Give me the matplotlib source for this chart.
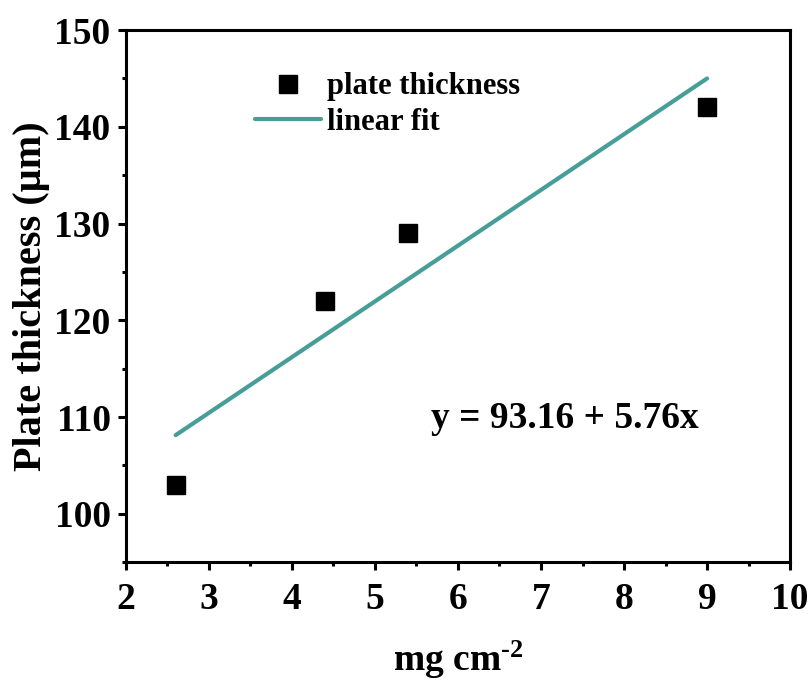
import numpy as np
import matplotlib
matplotlib.use("Agg")
import matplotlib.pyplot as plt
from matplotlib.ticker import MultipleLocator

plt.rcParams["font.family"] = "serif"
plt.rcParams["font.serif"] = ["Liberation Serif", "DejaVu Serif"]
plt.rcParams["font.weight"] = "bold"
plt.rcParams["mathtext.fontset"] = "custom"
plt.rcParams["mathtext.rm"] = "Liberation Serif:bold"
plt.rcParams["mathtext.default"] = "rm"

# loading (mg cm-2) vs measured plate thickness (um)
loading = [2.6, 4.4, 5.4, 9.0]
thickness = [103, 122, 129, 142]

# linear fit coefficients
intercept = 93.16
slope = 5.76

fit_x = np.array([loading[0], loading[-1]])
fit_y = intercept + slope * fit_x

teal = "#479e98"

fig = plt.figure(figsize=(8.12, 6.84), dpi=100, facecolor="white")
ax = fig.add_axes([0.155, 0.178, 0.818, 0.778])

ax.plot(loading, thickness, "s", color="black", ms=13.5, label="plate thickness", zorder=3)
ax.plot(fit_x, fit_y, "-", color=teal, lw=3, solid_capstyle="round", label="linear fit")

ax.set_xlim(2, 10)
ax.set_ylim(95, 150)
ax.xaxis.set_major_locator(MultipleLocator(1))
ax.xaxis.set_minor_locator(MultipleLocator(0.5))
ax.yaxis.set_major_locator(MultipleLocator(10))
ax.yaxis.set_minor_locator(MultipleLocator(5))

for s in ax.spines.values():
    s.set_linewidth(2.2)
ax.tick_params(which="major", direction="out", length=6, width=2.2, labelsize=27, pad=5)
ax.tick_params(which="minor", direction="out", length=3, width=2.2)
ax.tick_params(axis="x", which="major", pad=8)

ax.set_xlabel("mg cm$^{\u20102}$", fontsize=27, fontweight="bold", labelpad=16)
ax.set_ylabel("Plate thickness (\u03bcm)", fontsize=29, fontweight="bold", labelpad=3)

ax.text(7.29, 109.9, "y = 93.16 + 5.76x", fontsize=27, fontweight="bold", ha="center", va="center")

leg = ax.legend(loc="upper left", bbox_to_anchor=(0.153, 0.972), frameon=False,
                fontsize=22, handlelength=2.15, handletextpad=0.2, labelspacing=0.2,
                markerscale=0.95)

plt.savefig("out.png", dpi=100, facecolor="white")
